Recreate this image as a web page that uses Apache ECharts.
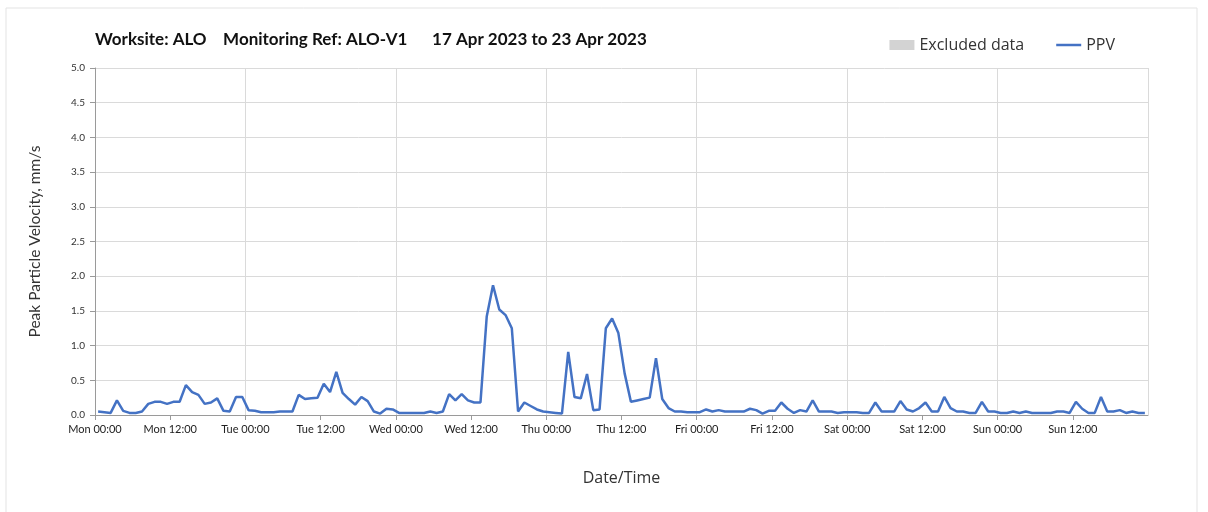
<!DOCTYPE html>
<html>
<head>
<meta charset="utf-8">
<script src="https://cdn.jsdelivr.net/npm/echarts@6/dist/echarts.min.js"></script>
<style>
  html, body { margin: 0; padding: 0; background: #fff; }
  #chart { width: 1208px; height: 512px; }
</style>
</head>
<body>
<div id="chart"></div>
<script>
// hourly PPV readings, Mon 00:00 .. Sun 23:00 (one row per day)
const ppvMon = [0.05, 0.04, 0.03, 0.21, 0.06, 0.03, 0.03, 0.05, 0.16, 0.19, 0.19, 0.16,
                0.19, 0.19, 0.43, 0.33, 0.29, 0.16, 0.18, 0.24, 0.06, 0.05, 0.26, 0.26];
const ppvTue = [0.07, 0.06, 0.04, 0.04, 0.04, 0.05, 0.05, 0.05, 0.29, 0.23, 0.24, 0.25,
                0.45, 0.33, 0.62, 0.32, 0.23, 0.15, 0.26, 0.20, 0.05, 0.02, 0.09, 0.08];
const ppvWed = [0.03, 0.03, 0.03, 0.03, 0.03, 0.05, 0.03, 0.05, 0.30, 0.21, 0.30, 0.21,
                0.18, 0.18, 1.42, 1.87, 1.52, 1.44, 1.25, 0.05, 0.18, 0.13, 0.08, 0.05];
const ppvThu = [0.04, 0.03, 0.02, 0.91, 0.26, 0.24, 0.59, 0.07, 0.08, 1.25, 1.39, 1.18,
                0.60, 0.19, 0.21, 0.23, 0.25, 0.82, 0.23, 0.10, 0.05, 0.05, 0.04, 0.04];
const ppvFri = [0.04, 0.08, 0.05, 0.07, 0.05, 0.05, 0.05, 0.05, 0.09, 0.07, 0.02, 0.06,
                0.06, 0.18, 0.09, 0.03, 0.07, 0.05, 0.21, 0.05, 0.05, 0.05, 0.03, 0.04];
const ppvSat = [0.04, 0.04, 0.03, 0.03, 0.18, 0.05, 0.05, 0.05, 0.20, 0.08, 0.05, 0.10,
                0.18, 0.05, 0.05, 0.26, 0.10, 0.05, 0.05, 0.03, 0.03, 0.19, 0.05, 0.05];
const ppvSun = [0.03, 0.03, 0.05, 0.03, 0.05, 0.03, 0.03, 0.03, 0.03, 0.05, 0.05, 0.03,
                0.19, 0.09, 0.03, 0.03, 0.26, 0.05, 0.05, 0.07, 0.03, 0.05, 0.03, 0.03];

const dayNames = ["Mon", "Tue", "Wed", "Thu", "Fri", "Sat", "Sun"];
const tickTimes = ["00:00", "12:00"];
const titleText = "Worksite: ALO    Monitoring Ref: ALO-V1      17 Apr 2023 to 23 Apr 2023";

const ppv = [].concat(ppvMon, ppvTue, ppvWed, ppvThu, ppvFri, ppvSat, ppvSun);
// each reading plotted at the middle of its hour
const ppvData = ppv.map((v, i) => [i + 0.5, v]);

const font = "Lato, 'Open Sans', sans-serif";
const myChart = echarts.init(document.getElementById("chart"));
myChart.setOption({
  animation: false,
  textStyle: { fontFamily: font },
  graphic: [
    {
      type: "rect",
      shape: { x: 6, y: 8, width: 1191, height: 510 },
      style: { fill: "none", stroke: "#e3e3e3", lineWidth: 1 },
      silent: true
    }
  ],
  title: {
    text: titleText,
    left: 90,
    top: 26,
    textStyle: { fontSize: 17, fontWeight: "bold", color: "#111", fontFamily: font }
  },
  legend: {
    right: 88,
    top: 32,
    itemWidth: 25,
    itemHeight: 10,
    itemGap: 32,
    textStyle: { fontSize: 16, color: "#333", fontFamily: "'Open Sans', sans-serif" },
    data: [
      { name: "Excluded data", icon: "rect" },
      { name: "PPV", icon: "path://M0,0H50V5H0Z" }
    ]
  },
  grid: { left: 95, right: 60, top: 68, bottom: 97 },
  xAxis: {
    type: "value",
    min: 0,
    max: 168,
    interval: 12,
    name: "Date/Time",
    nameLocation: "middle",
    nameGap: 55,
    nameTextStyle: { fontSize: 16, color: "#333", fontFamily: "'Open Sans', sans-serif" },
    axisLine: { show: true, lineStyle: { color: "#9a9a9a" } },
    axisTick: { show: true, length: 5, lineStyle: { color: "#9a9a9a" } },
    axisLabel: {
      fontSize: 11,
      color: "#222",
      margin: 9,
      showMaxLabel: false,
      formatter: function (v) {
        const d = Math.floor(v / 24);
        if (d > 6) return "";
        return dayNames[d] + " " + tickTimes[(v % 24) / 12];
      }
    },
    splitLine: {
      show: true,
      lineStyle: { color: ["#dadada", "rgba(0,0,0,0)"], width: 1 }
    }
  },
  yAxis: {
    type: "value",
    min: 0,
    max: 5,
    interval: 0.5,
    name: "Peak Particle Velocity, mm/s",
    nameLocation: "middle",
    nameGap: 52,
    nameTextStyle: { fontSize: 15.5, color: "#333" },
    axisLine: { show: true, lineStyle: { color: "#9a9a9a" } },
    axisTick: { show: true, length: 5, lineStyle: { color: "#9a9a9a" } },
    axisLabel: {
      fontSize: 10,
      color: "#333",
      margin: 10,
      formatter: function (v) { return v.toFixed(1); }
    },
    splitLine: { show: true, lineStyle: { color: "#dadada", width: 1 } }
  },
  series: [
    {
      name: "Excluded data",
      type: "line",
      data: [],
      symbol: "none",
      itemStyle: { color: "#d3d3d3" },
      lineStyle: { color: "#d3d3d3" }
    },
    {
      name: "PPV",
      type: "line",
      data: ppvData,
      symbol: "none",
      itemStyle: { color: "#4472c4" },
      lineStyle: { color: "#4472c4", width: 2.5 }
    }
  ]
});
</script>
</body>
</html>
